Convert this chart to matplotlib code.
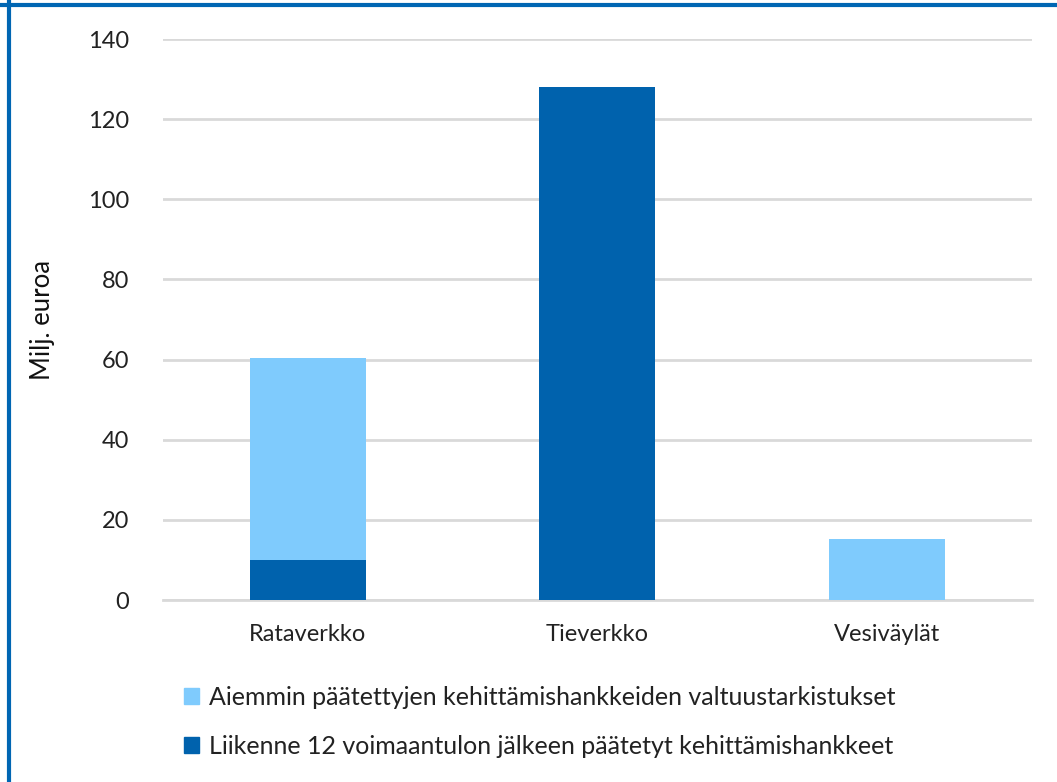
import numpy as np
import matplotlib.pyplot as plt
from matplotlib.patches import Rectangle

plt.rcParams['font.family'] = ['Lato', 'DejaVu Sans']

categories = ['Rataverkko', 'Tieverkko', 'Vesiväylät']
uudet = [10.0, 128.0, 0.0]          # dark blue, bottom
tarkistukset = [50.4, 0.0, 15.2]    # light blue, stacked on top
labels = ['Aiemmin päätettyjen kehittämishankkeiden valtuustarkistukset',
          'Liikenne 12 voimaantulon jälkeen päätetyt kehittämishankkeet']
yticks = [0, 20, 40, 60, 80, 100, 120, 140]

dark = '#0062AD'
light = '#7FCBFD'
grid_c = '#D9D9D9'

fig = plt.figure(figsize=(10.57, 7.82), dpi=100)
ax = fig.add_axes([0.154, 0.2327, 0.822, 0.7173])

x = np.arange(len(categories))
ax.bar(x, uudet, width=0.4, color=dark, zorder=3)
ax.bar(x, tarkistukset, width=0.4, bottom=uudet, color=light, zorder=3)

ax.set_xlim(-0.5, 2.5)
ax.set_ylim(0, 140)
ax.set_yticks(yticks)
ax.set_xticks(x)
ax.set_xticklabels(categories)
ax.tick_params(axis='both', length=0, labelsize=17, colors='#222222')
ax.tick_params(axis='x', pad=17)
ax.tick_params(axis='y', pad=24)
ax.yaxis.grid(True, color=grid_c, lw=2, zorder=0)
for s in ['left', 'right', 'top']:
    ax.spines[s].set_visible(False)
ax.spines['bottom'].set_color(grid_c)
ax.spines['bottom'].set_linewidth(2)
ax.set_ylabel('Milj. euroa', fontsize=18.5, color='#111111')
ax.yaxis.set_label_coords(-0.124, 0.5)

handles = [Rectangle((0, 0), 1, 1, color=light), Rectangle((0, 0), 1, 1, color=dark)]
fig.legend(handles, labels, loc='upper left', bbox_to_anchor=(0.153, 0.152),
           bbox_transform=fig.transFigure, frameon=False, fontsize=18,
           handlelength=0.6, handleheight=0.6, handletextpad=0.4,
           labelspacing=1.05, labelcolor='#222222')

# blue frame on top and left
fig.add_artist(plt.Line2D([0, 1], [0.9935, 0.9935], transform=fig.transFigure, color='#0066B3', lw=3))
fig.add_artist(plt.Line2D([0.0081, 0.0081], [0, 1], transform=fig.transFigure, color='#0066B3', lw=3))

fig.savefig('out.png', dpi=100)
